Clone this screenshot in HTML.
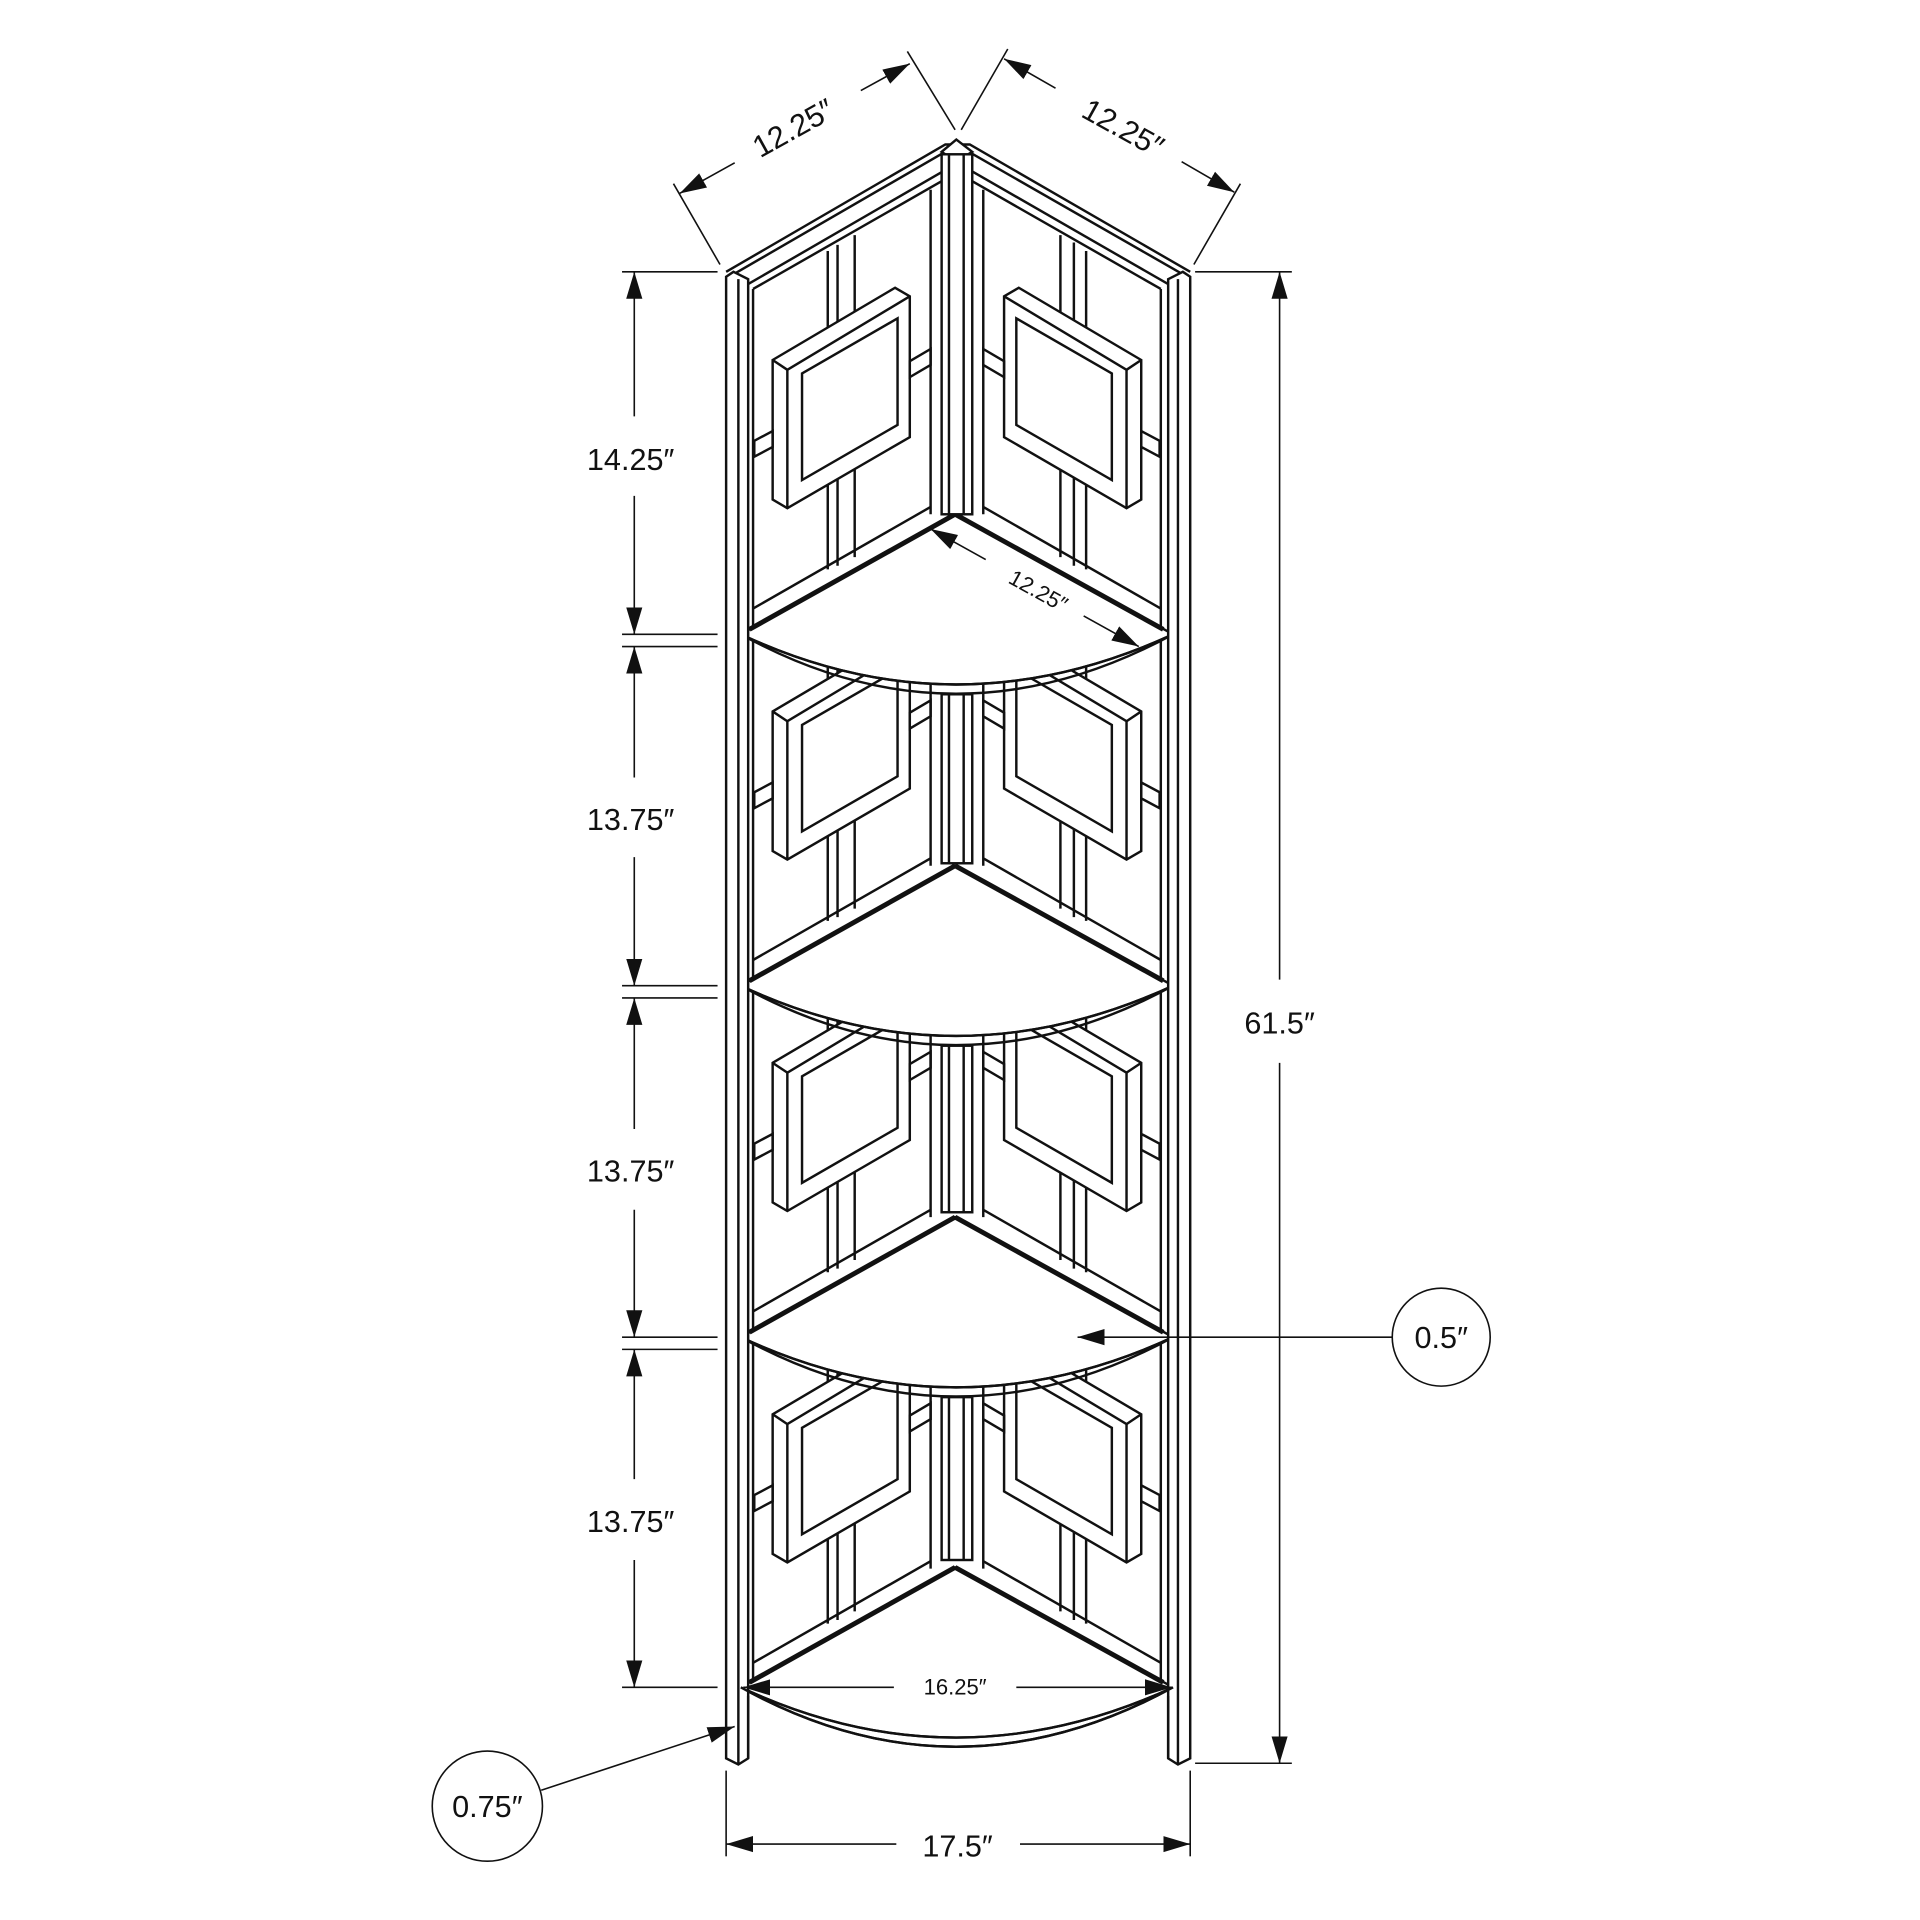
<!DOCTYPE html>
<html><head><meta charset="utf-8"><style>
html,body{margin:0;padding:0;background:#fff;width:1920px;height:1920px;overflow:hidden}
svg{display:block}
text{font-family:"Liberation Sans",sans-serif;fill:#111}
</style></head><body>
<svg width="1920" height="1920" viewBox="0 0 1568 1568" xmlns="http://www.w3.org/2000/svg">
<defs>
<g id="pat" fill="none" stroke="#111" stroke-width="2">
  <!-- left panel -->
  <line x1="615" y1="236" x2="769" y2="148"/>
  <line x1="615" y1="236" x2="615" y2="520"/>
  <line x1="760" y1="155" x2="760" y2="420"/>
  <line x1="676" y1="205" x2="676" y2="465"/>
  <line x1="684" y1="200" x2="684" y2="462"/>
  <line x1="698" y1="192" x2="698" y2="455"/>
  <polygon points="631,294 731,235 743,242 743,357 643,415 631,408" fill="#fff"/>
  <polyline points="643,415 643,302 743,242"/>
  <line x1="631" y1="294" x2="643" y2="302"/>
  <polygon points="655,305 733,260 733,347 655,392"/>
  <polygon points="616,360 631,352 631,365 616,373"/>
  <polygon points="743,295 760,285 760,298 743,308"/>
  <!-- right panel -->
  <line x1="794" y1="148" x2="948" y2="236"/>
  <line x1="948" y1="236" x2="948" y2="520"/>
  <line x1="803" y1="155" x2="803" y2="420"/>
  <line x1="866" y1="192" x2="866" y2="455"/>
  <line x1="877" y1="198" x2="877" y2="462"/>
  <line x1="887" y1="205" x2="887" y2="465"/>
  <polygon points="932,294 832,235 820,242 820,357 920,415 932,408" fill="#fff"/>
  <polyline points="920,415 920,302 820,242"/>
  <line x1="932" y1="294" x2="920" y2="302"/>
  <polygon points="908,305 830,260 830,347 908,392"/>
  <polygon points="947,360 932,352 932,365 947,373"/>
  <polygon points="820,295 803,285 803,298 820,308"/>
  <!-- lower frame lines -->
  <line x1="615" y1="497" x2="760" y2="414"/>
  <line x1="803" y1="414" x2="948" y2="497"/>
</g>
<g id="shelf" stroke="#111" fill="#fff">
  <path d="M605,518 L780,420 L958,518 Q780,600 605,518 Z" stroke-width="2"/>
  <path d="M605,518 Q780,615 958,518" fill="none" stroke-width="2"/>
  <path d="M605,518 Q780,600 958,518" fill="none" stroke-width="2"/>
  <line x1="612" y1="514" x2="780" y2="420" stroke-width="4"/>
  <line x1="780" y1="420" x2="950" y2="514" stroke-width="4"/>
</g>
<marker id="ar" viewBox="0 0 10 10" refX="10" refY="5" markerWidth="9" markerHeight="9" orient="auto-start-reverse" markerUnits="userSpaceOnUse"><path d="M0,1.5 L10,5 L0,8.5 Z" fill="#111"/></marker>
<marker id="ar2" viewBox="0 0 10 10" refX="10" refY="5" markerWidth="22" markerHeight="22" orient="auto-start-reverse" markerUnits="userSpaceOnUse"><path d="M0,2 L10,5 L0,8 Z" fill="#111"/></marker>
</defs>

<!-- panel patterns -->
<use href="#pat"/>
<use href="#pat" transform="translate(0,287)"/>
<use href="#pat" transform="translate(0,574)"/>
<use href="#pat" transform="translate(0,861)"/>

<!-- top beams -->
<g fill="none" stroke="#111" stroke-width="2">
  <polyline points="593,222 772,118 781,118"/>
  <line x1="611" y1="232" x2="770" y2="140"/>
  <line x1="599" y1="224" x2="777" y2="121"/>
  <polyline points="781,118 792,118 972,222"/>
  <line x1="794" y1="140" x2="954" y2="232"/>
  <line x1="786" y1="121" x2="966" y2="224"/>
  <polygon points="769,124 781,114 794,124 781,132" fill="#fff"/>
</g>

<!-- shelves -->
<use href="#shelf"/>
<use href="#shelf" transform="translate(0,287)"/>
<use href="#shelf" transform="translate(0,574)"/>
<use href="#shelf" transform="translate(0,860)"/>

<!-- posts -->
<g fill="#fff" stroke="#111" stroke-width="2">
  <polygon points="593,226 599,222 611,228 611,1436 603,1441 593,1436"/>
  <line x1="603" y1="228" x2="603" y2="1441"/>
  <polygon points="954,228 966,222 972,226 972,1436 962,1441 954,1436"/>
  <line x1="962" y1="228" x2="962" y2="1441"/>
  <rect x="769" y="126" width="25" height="294"/>
  <line x1="775" y1="126" x2="775" y2="420"/><line x1="787" y1="126" x2="787" y2="420"/>
  <rect x="769" y="567" width="25" height="138"/>
  <line x1="775" y1="567" x2="775" y2="705"/><line x1="787" y1="567" x2="787" y2="705"/>
  <rect x="769" y="854" width="25" height="136"/>
  <line x1="775" y1="854" x2="775" y2="990"/><line x1="787" y1="854" x2="787" y2="990"/>
  <rect x="769" y="1141" width="25" height="133"/>
  <line x1="775" y1="1141" x2="775" y2="1274"/><line x1="787" y1="1141" x2="787" y2="1274"/>
  <line x1="611" y1="1385" x2="611" y2="1436"/>
  <line x1="954" y1="1385" x2="954" y2="1436"/>
</g>
<g fill="none" stroke="#111" stroke-width="2">
  <path d="M605,1378 Q780,1475 958,1378"/>
</g>

<!-- dimension lines -->
<g stroke="#111" stroke-width="1.3" fill="none">
  <!-- left verticals -->
  <line x1="508" y1="222" x2="586" y2="222"/>
  <line x1="508" y1="518" x2="586" y2="518"/><line x1="508" y1="528" x2="586" y2="528"/>
  <line x1="508" y1="805" x2="586" y2="805"/><line x1="508" y1="815" x2="586" y2="815"/>
  <line x1="508" y1="1092" x2="586" y2="1092"/><line x1="508" y1="1102" x2="586" y2="1102"/>
  <line x1="508" y1="1378" x2="586" y2="1378"/>
  <line x1="518" y1="222" x2="518" y2="340" marker-start="url(#ar2)"/>
  <line x1="518" y1="405" x2="518" y2="518" marker-end="url(#ar2)"/>
  <line x1="518" y1="528" x2="518" y2="635" marker-start="url(#ar2)"/>
  <line x1="518" y1="700" x2="518" y2="805" marker-end="url(#ar2)"/>
  <line x1="518" y1="815" x2="518" y2="922" marker-start="url(#ar2)"/>
  <line x1="518" y1="988" x2="518" y2="1092" marker-end="url(#ar2)"/>
  <line x1="518" y1="1102" x2="518" y2="1208" marker-start="url(#ar2)"/>
  <line x1="518" y1="1274" x2="518" y2="1378" marker-end="url(#ar2)"/>
  <!-- right 61.5 -->
  <line x1="976" y1="222" x2="1055" y2="222"/>
  <line x1="976" y1="1440" x2="1055" y2="1440"/>
  <line x1="1045" y1="222" x2="1045" y2="800" marker-start="url(#ar2)"/>
  <line x1="1045" y1="868" x2="1045" y2="1440" marker-end="url(#ar2)"/>
  <!-- bottom 17.5 -->
  <line x1="593" y1="1446" x2="593" y2="1516"/>
  <line x1="972" y1="1446" x2="972" y2="1516"/>
  <line x1="593" y1="1506" x2="732" y2="1506" marker-start="url(#ar2)"/>
  <line x1="833" y1="1506" x2="972" y2="1506" marker-end="url(#ar2)"/>
  <!-- top left 12.25 -->
  <line x1="588" y1="216" x2="550" y2="150"/>
  <line x1="780" y1="106" x2="741" y2="42"/>
  <line x1="555" y1="158" x2="600" y2="133" marker-start="url(#ar2)"/>
  <line x1="703" y1="74" x2="743" y2="52" marker-end="url(#ar2)"/>
  <!-- top right 12.25 -->
  <line x1="785" y1="106" x2="823" y2="40"/>
  <line x1="975" y1="216" x2="1013" y2="150"/>
  <line x1="820" y1="48" x2="862" y2="72" marker-start="url(#ar2)"/>
  <line x1="965" y1="132" x2="1008" y2="157" marker-end="url(#ar2)"/>
  <!-- inner 12.25 -->
  <line x1="760" y1="432" x2="805" y2="457" marker-start="url(#ar2)"/>
  <line x1="885" y1="503" x2="930" y2="528" marker-end="url(#ar2)"/>
  <!-- 16.25 -->
  <line x1="607" y1="1378" x2="730" y2="1378" marker-start="url(#ar2)"/>
  <line x1="830" y1="1378" x2="957" y2="1378" marker-end="url(#ar2)"/>
  <!-- 0.5 -->
  <circle cx="1177" cy="1092" r="40"/>
  <line x1="1137" y1="1092" x2="880" y2="1092" marker-end="url(#ar2)"/>
  <!-- 0.75 -->
  <circle cx="398" cy="1475" r="45"/>
  <line x1="442" y1="1462" x2="600" y2="1410" marker-end="url(#ar2)"/>
</g>

<!-- labels -->
<g font-size="25">
  <text x="515" y="384" text-anchor="middle">14.25″</text>
  <text x="515" y="678" text-anchor="middle">13.75″</text>
  <text x="515" y="965" text-anchor="middle">13.75″</text>
  <text x="515" y="1251" text-anchor="middle">13.75″</text>
  <text x="1045" y="844" text-anchor="middle">61.5″</text>
  <text x="782" y="1516" text-anchor="middle">17.5″</text>
  <text x="1177" y="1101" text-anchor="middle">0.5″</text>
  <text x="398" y="1484" text-anchor="middle">0.75″</text>
  <text transform="translate(652,112) rotate(-29)" text-anchor="middle">12.25″</text>
  <text transform="translate(913,112) rotate(29)" text-anchor="middle">12.25″</text>
</g>
<text transform="translate(845,488) rotate(29)" text-anchor="middle" font-size="18">12.25″</text>
<text x="780" y="1384" text-anchor="middle" font-size="18">16.25″</text>
</svg>
</body></html>
